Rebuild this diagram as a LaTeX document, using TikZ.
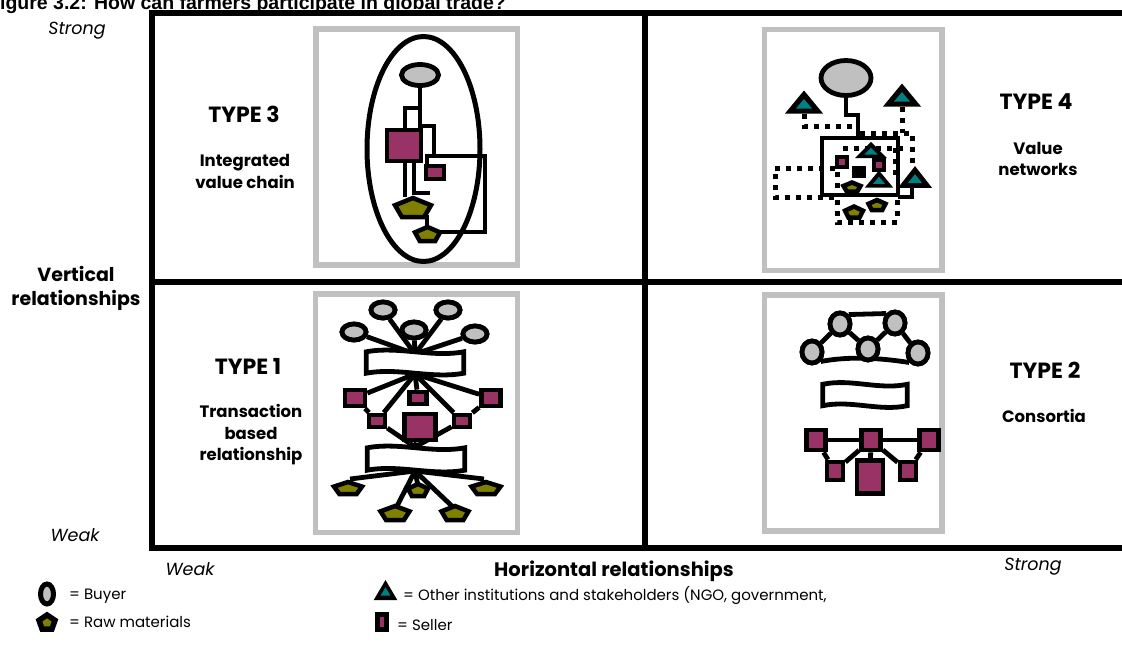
\documentclass[tikz,border=0pt]{standalone}
\usepackage{fontspec}
\setmainfont{Poppins}
\newfontfamily\titlefont{Liberation Sans}
\usetikzlibrary{shapes.geometric,calc}
\definecolor{boxgray}{HTML}{C0C0C0}
\definecolor{buyergray}{HTML}{C0C0C0}
\definecolor{sellerc}{HTML}{993366}
\definecolor{rawc}{HTML}{808000}
\definecolor{instc}{HTML}{008080}
\tikzset{
  rawst/.style={line width=4.5pt, draw=black, fill=rawc},
  pics/raw/.style 2 args={code={
    \draw[rawst] (0,-0.5*#2) -- (-0.5*#1,-0.118*#2) -- (-0.309*#1,0.5*#2)
      -- (0.309*#1,0.5*#2) -- (0.5*#1,-0.118*#2) -- cycle;
    \coordinate (-c) at (0,0);}},
  pics/inst/.style={code={
    \fill[black] (-19,11.5) -- (19,11.5) -- (0,-11.5) -- cycle;
    \fill[instc] (-8,6.5) -- (8,6.5) -- (0,-3) -- cycle;
    \coordinate (-c) at (0,0);}},
}
\begin{document}
\begin{tikzpicture}[x=1pt,y=-1pt,
  ln/.style={line width=4.8pt, black},
  dotln/.style={line width=5pt, black, dash pattern=on 5pt off 6pt},
  frameln/.style={line width=6pt, black},
  boxln/.style={line width=5.5pt, draw=boxgray},
  buyer/.style={ellipse, draw, line width=4.8pt, fill=buyergray, inner sep=0pt},
  seller/.style={rectangle, draw, line width=4.8pt, fill=sellerc, inner sep=0pt},
  ring/.style={ellipse, draw, line width=5pt, inner sep=0pt},
  typelab/.style={font=\fontsize{22}{24}\selectfont\bfseries},
  sublab/.style={font=\fontsize{16.5}{21.5}\selectfont\bfseries, align=center},
  axislab/.style={font=\fontsize{19}{24}\selectfont\bfseries, align=center},
  strengthlab/.style={font=\fontsize{17.5}{20}\selectfont\itshape},
  legtext/.style={font=\fontsize{15}{17}\selectfont, anchor=west, inner sep=0pt},
]
\useasboundingbox (0,0) rectangle (1122,662);
\fill[white] (0,0) rectangle (1122,662);

% title (cut off at the top, as in the original)
\node[anchor=base west, inner sep=0pt, font=\titlefont\fontsize{19.5}{22}\selectfont\bfseries] (title) at (-12,9) {Figure 3.2: How can farmers participate in global trade?};

% frame
\draw[frameln] (1130,13) -- (152,13) -- (152,548) -- (1130,548);
\draw[frameln] (645,13) -- (645,548);
\draw[frameln] (152,282) -- (1130,282);

% grey boxes
\draw[boxln] (316,29) rectangle (517.5,265);
\draw[boxln] (764.5,29.5) rectangle (942,270.5);
\draw[boxln] (315.5,294) rectangle (517.5,532.5);
\draw[boxln] (764.5,295) rectangle (942,531);

% ---------- TYPE 3 ----------
\node[ring, minimum width=113pt, minimum height=225pt] (ring3) at (423.5,149) {};
\node[buyer, minimum width=37pt, minimum height=21pt] (b3) at (420,75) {};
\node[seller, minimum width=34pt, minimum height=31pt] (s3a) at (404,145.5) {};
\draw[ln] (b3.south) -- (b3.south |- s3a.north);
\draw[ln] (420,108) -- (405,108) -- (405,128);
\draw[ln] (420,126) -| (434,158);
\draw[ln] (427,166) -- (427,156) -- (485,156) -- (485,232) -- (440,232);
\draw[ln] (405,160) -- (405,197);
\draw[ln] (414,160) -- (414,193) -- (430,193);
\draw[ln] (427,215) -- (427,228);
\node[seller, minimum width=18pt, minimum height=13pt] (s3b) at (435,172.5) {};
\pic (p3a) at (413,207.5) {raw={36}{19}};
\pic (p3b) at (427.5,234) {raw={25}{14}};

% ---------- TYPE 4 ----------
\draw[dotln] (804,114) -- (804,126) -- (852,126);
\draw[dotln] (902,107) -- (902,133);
\draw[dotln] (860,133) -- (912,133) -- (912,168);
\draw[dotln] (835,168) -- (775,168) -- (775,197) -- (835,197);
\draw[dotln] (843,148) -- (903,148);
\draw[dotln] (895,148) -- (895,176);
\draw[dotln] (837,172) -- (837,188);
\draw[dotln] (837,200) -- (837,222) -- (897,222) -- (897,200);
\node[buyer, minimum width=50pt, minimum height=35pt] (b4) at (846,78) {};
\node[draw, line width=4.8pt, minimum width=76pt, minimum height=57pt, inner sep=0pt] (net4) at (860,166.5) {};
\draw[ln] (b4.south) -- (846,115) -- (858,115) -- (858,138);
\draw[ln] (912,187) -- (912,197) -- (898,197);
\node[seller, minimum width=10pt, minimum height=10pt] (se1) at (842,162) {};
\node[seller, minimum width=10pt, minimum height=10pt] (se2) at (879,165) {};
\node[seller, fill=black, minimum width=10pt, minimum height=8pt] (se3) at (859,172) {};
\pic (pe1) at (852,187) {raw={17}{9}};
\pic (pe2) at (877,205) {raw={17}{10}};
\pic (pe3) at (854,212) {raw={18}{11}};
\pic (tr1) at (804,102) {inst};
\pic (tr2) at (902,95) {inst};
\pic[xscale=0.84, yscale=0.7] (tr3) at (871,150) {inst};
\pic[xscale=0.74, yscale=0.74] (tr4) at (879,179) {inst};
\pic[xscale=0.9, yscale=0.95] (tr5) at (915,177) {inst};

% ---------- TYPE 1 ----------
\coordinate (q1a) at (415,354);
\coordinate (q1b) at (415,374);
\coordinate (q1c) at (415,447);
\coordinate (q1d) at (415,471);
\node[buyer, minimum width=24pt, minimum height=16pt] (b1a) at (383,310) {};
\node[buyer, minimum width=24pt, minimum height=16pt] (b1b) at (448,310) {};
\node[buyer, minimum width=24pt, minimum height=16pt] (b1c) at (354,332) {};
\node[buyer, minimum width=24pt, minimum height=16pt] (b1d) at (414,330) {};
\node[buyer, minimum width=24pt, minimum height=16pt] (b1e) at (475,334) {};
\foreach \b in {b1a,b1b,b1c,b1d,b1e} \draw[ln] (\b) -- (q1a);
\foreach \b in {b1a,b1b,b1c,b1d,b1e} \node[buyer, minimum width=24pt, minimum height=16pt] at (\b) {};
\node[seller, minimum width=20pt, minimum height=16pt] (s1a) at (355,398) {};
\node[seller, minimum width=17pt, minimum height=12pt] (s1b) at (418,398) {};
\node[seller, minimum width=19pt, minimum height=16pt] (s1c) at (491,398) {};
\node[seller, minimum width=16pt, minimum height=12pt] (s1d) at (377,421) {};
\node[seller, minimum width=31pt, minimum height=26pt] (s1e) at (420,427) {};
\node[seller, minimum width=16pt, minimum height=12pt] (s1f) at (462,421) {};
\foreach \s in {s1a,s1b,s1c,s1d,s1f} \draw[ln] (q1b) -- (\s);
\draw[ln] (s1a) -- (s1d);
\draw[ln] (s1c) -- (s1f);
\foreach \s in {s1d,s1e,s1f} \draw[ln] (\s) -- (q1c);
\node[seller, minimum width=20pt, minimum height=16pt] at (s1a) {};
\node[seller, minimum width=17pt, minimum height=12pt] at (s1b) {};
\node[seller, minimum width=19pt, minimum height=16pt] at (s1c) {};
\node[seller, minimum width=16pt, minimum height=12pt] at (s1d) {};
\node[seller, minimum width=31pt, minimum height=26pt] at (s1e) {};
\node[seller, minimum width=16pt, minimum height=12pt] at (s1f) {};
\draw[ln] (q1d) -- (350,479);
\draw[ln] (q1d) -- (418,486);
\draw[ln] (q1d) -- (484,479);
\draw[ln] (q1d) -- (396,508);
\draw[ln] (q1d) -- (454,508);
\node[inner sep=0pt, minimum width=97pt, minimum height=21pt] (ban1) at (415,362.5) {};
\draw[ln, fill=white] (ban1.north west) .. controls +(32,-6) and +(-32,6) .. (ban1.north east) -- (ban1.south east) .. controls +(-32,6) and +(32,-6) .. (ban1.south west) -- cycle;
\node[inner sep=0pt, minimum width=97pt, minimum height=22pt] (ban2) at (416,459) {};
\draw[ln, fill=white] (ban2.north west) .. controls +(32,-6) and +(-32,6) .. (ban2.north east) -- (ban2.south east) .. controls +(-32,6) and +(32,-6) .. (ban2.south west) -- cycle;
\pic (p1a) at (348,488) {raw={28}{12}};
\pic (p1b) at (418,490) {raw={20}{12}};
\pic (p1c) at (486,488) {raw={29}{12}};
\pic (p1d) at (395,513) {raw={29}{14}};
\pic (p1e) at (455,513) {raw={27}{14}};

% ---------- TYPE 2 ----------
\node[buyer, minimum width=20pt, minimum height=22pt] (c2a) at (840,324) {};
\node[buyer, minimum width=20pt, minimum height=22pt] (c2b) at (895,323) {};
\node[buyer, minimum width=20pt, minimum height=22pt] (c2c) at (812,352) {};
\node[buyer, minimum width=20pt, minimum height=22pt] (c2d) at (868,349) {};
\node[buyer, minimum width=20pt, minimum height=22pt] (c2e) at (918,353) {};
\begin{scope}[ln]
\draw (c2a.north east) -- (c2b.north west);
\draw (c2a) -- (c2c);
\draw (c2a) -- (c2d);
\draw (c2d) -- (c2b);
\draw (c2b) -- (c2e);
\draw (c2c.south east) .. controls (850,356) and (880,358) .. (c2e.south west);
\end{scope}
\foreach \c in {c2a,c2b,c2c,c2d,c2e} \node[buyer, minimum width=20pt, minimum height=22pt] at (\c) {};
\node[inner sep=0pt, minimum width=84pt, minimum height=21pt] (ban3) at (865,395) {};
\draw[ln, fill=white] (ban3.north west) .. controls +(28,-6) and +(-28,6) .. (ban3.north east) -- (ban3.south east) .. controls +(-28,6) and +(28,-6) .. (ban3.south west) -- cycle;
\node[seller, minimum width=19pt, minimum height=20pt] (t2a) at (816,440) {};
\node[seller, minimum width=19pt, minimum height=20pt] (t2b) at (871,440) {};
\node[seller, minimum width=19pt, minimum height=20pt] (t2c) at (929,440) {};
\node[seller, minimum width=16pt, minimum height=18pt] (t2d) at (835,471) {};
\node[seller, minimum width=26pt, minimum height=33pt] (t2e) at (870,477) {};
\node[seller, minimum width=16pt, minimum height=18pt] (t2f) at (908,471) {};
\begin{scope}[ln]
\draw (t2a) -- (t2b);
\draw (t2b) -- (t2c);
\draw (t2a) -- (t2d);
\draw (t2b) -- (t2d);
\draw (t2b) -- (t2e);
\draw (t2b) -- (t2f);
\draw (t2c) -- (t2f);
\end{scope}
\node[seller, minimum width=19pt, minimum height=20pt] at (t2a) {};
\node[seller, minimum width=19pt, minimum height=20pt] at (t2b) {};
\node[seller, minimum width=19pt, minimum height=20pt] at (t2c) {};
\node[seller, minimum width=16pt, minimum height=18pt] at (t2d) {};
\node[seller, minimum width=26pt, minimum height=33pt] at (t2e) {};
\node[seller, minimum width=16pt, minimum height=18pt] at (t2f) {};

% ---------- labels ----------
\node[strengthlab] (sv) at (77,31) {Strong};
\node[strengthlab] (wv) at (75,535) {Weak};
\node[axislab] (va) at (76,288) {Vertical\\relationships};
\node[strengthlab] (wh) at (190,569) {Weak};
\node[axislab, font=\fontsize{19.5}{24}\selectfont\bfseries] (ha) at (614,571) {Horizontal relationships};
\node[strengthlab] (sh) at (1033,567) {Strong};
\node[typelab] (t3) at (244,114) {TYPE 3};
\node[sublab] (d3) at (245,171.5) {Integrated\\value chain};
\node[typelab] (t4) at (1036,102) {TYPE 4};
\node[sublab] (d4) at (1038,159) {Value\\networks};
\node[typelab] (t1) at (248,366) {TYPE 1};
\node[sublab] (d1) at (251,435) {Transaction\\based\\relationship};
\node[typelab] (t2) at (1045,370) {TYPE 2};
\node[sublab] (d2) at (1044,416) {Consortia};

% ---------- legend ----------
\node[ellipse, draw, line width=5pt, fill=buyergray, minimum width=13pt, minimum height=20pt, inner sep=0pt] (lb) at (47,594) {};
\node[legtext] (lbt) at (69,596) {= Buyer};
\begin{scope}[rawst/.append style={line width=5.5pt}]
\pic (lr) at (47,622) {raw={16}{14}};
\end{scope}
\node[legtext] (lrt) at (69,622) {= Raw materials};
\pic[xscale=0.62, yscale=0.87] (lt) at (385.5,590) {inst};
\node[legtext] (ltt) at (403,596) {= Other institutions and stakeholders (NGO, government,};
\node[seller, line width=5pt, minimum width=9pt, minimum height=15pt] (ls) at (382,622) {};
\node[legtext] (lst) at (397,625) {= Seller};
\end{tikzpicture}
\end{document}
